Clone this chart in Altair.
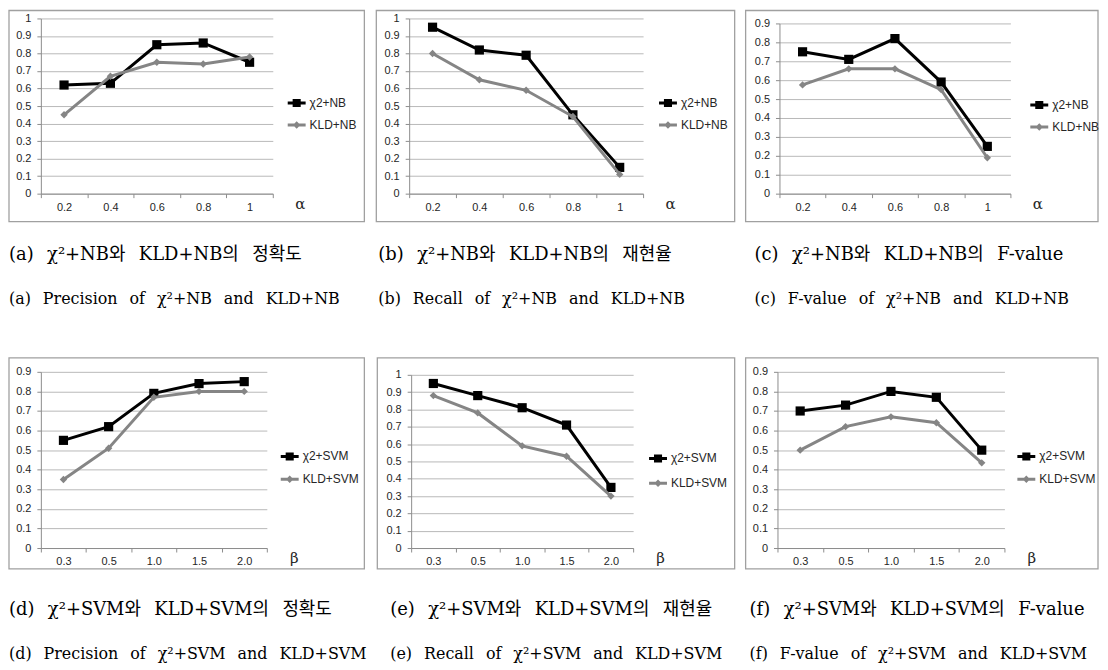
import altair as alt
import pandas as pd

# ---------------- data ----------------
alpha_labels = ["0.2", "0.4", "0.6", "0.8", "1"]
beta_labels = ["0.3", "0.5", "1.0", "1.5", "2.0"]

series_nb = ["χ2+NB", "KLD+NB"]
series_svm = ["χ2+SVM", "KLD+SVM"]

prec_nb_chi = [0.62, 0.63, 0.85, 0.86, 0.75]
prec_nb_kld = [0.45, 0.67, 0.75, 0.74, 0.78]
rec_nb_chi = [0.95, 0.82, 0.79, 0.45, 0.15]
rec_nb_kld = [0.80, 0.65, 0.59, 0.44, 0.11]
f_nb_chi = [0.75, 0.71, 0.82, 0.59, 0.25]
f_nb_kld = [0.575, 0.66, 0.66, 0.55, 0.19]

prec_svm_chi = [0.55, 0.62, 0.79, 0.84, 0.85]
prec_svm_kld = [0.35, 0.51, 0.77, 0.80, 0.80]
rec_svm_chi = [0.95, 0.88, 0.81, 0.71, 0.35]
rec_svm_kld = [0.88, 0.78, 0.59, 0.53, 0.30]
f_svm_chi = [0.70, 0.73, 0.80, 0.77, 0.50]
f_svm_kld = [0.50, 0.62, 0.67, 0.64, 0.435]

ticks_10 = [0, 0.1, 0.2, 0.3, 0.4, 0.5, 0.6, 0.7, 0.8, 0.9, 1.0]
ticks_09 = [0, 0.1, 0.2, 0.3, 0.4, 0.5, 0.6, 0.7, 0.8, 0.9]

K = "\u2002\u2005"    # gap in the Korean caption line
E = "\u2002\u2005"    # gap in the English caption line
captions = {
    "a": ["(a)" + K + "χ²+NB와" + K + "KLD+NB의" + K + "정확도",
          "(a)" + E + "Precision" + E + "of" + E + "χ²+NB" + E + "and" + E + "KLD+NB"],
    "b": ["(b)" + K + "χ²+NB와" + K + "KLD+NB의" + K + "재현율",
          "(b)" + E + "Recall" + E + "of" + E + "χ²+NB" + E + "and" + E + "KLD+NB"],
    "c": ["(c)" + K + "χ²+NB와" + K + "KLD+NB의" + K + "F-value",
          "(c)" + E + "F-value" + E + "of" + E + "χ²+NB" + E + "and" + E + "KLD+NB"],
    "d": ["(d)" + K + "χ²+SVM와" + K + "KLD+SVM의" + K + "정확도",
          "(d)" + E + "Precision" + E + "of" + E + "χ²+SVM" + E + "and" + E + "KLD+SVM"],
    "e": ["(e)" + K + "χ²+SVM와" + K + "KLD+SVM의" + K + "재현율",
          "(e)" + E + "Recall" + E + "of" + E + "χ²+SVM" + E + "and" + E + "KLD+SVM"],
    "f": ["(f)" + K + "χ²+SVM와" + K + "KLD+SVM의" + K + "F-value",
          "(f)" + E + "F-value" + E + "of" + E + "χ²+SVM" + E + "and" + E + "KLD+SVM"],
}

# ---------------- styles ----------------
BLACK = "#000000"
GRAY = "#858585"
GRID = "#b8b8b8"
AXIS = "#8c8c8c"
FRAME = "#a0a0a0"
LABEL = "#262626"
SANS = "Liberation Sans"
SERIF = "DejaVu Serif, Noto Sans CJK KR"

CHI_PATH = "M-1,-0.17H1V0.17H-1Z M-0.45,-0.45H0.45V0.45H-0.45Z"
KLD_PATH = "M-1,-0.17H1V0.17H-1Z M0,-0.42L0.42,0L0,0.42L-0.42,0Z"


def panel(xlabels, series, chi, kld, ymax, yticks, sym, caption, W, H,
          ytop, frame, legx, legy, rowpad, capdx, capoff):
    df = pd.DataFrame({
        "x": xlabels + xlabels,
        "v": chi + kld,
        "s": [series[0]] * len(xlabels) + [series[1]] * len(xlabels),
    })
    xenc = alt.X(
        "x:N", sort=xlabels, bandPosition=0.5,
        scale=alt.Scale(type="band", paddingInner=0, paddingOuter=0),
        axis=alt.Axis(
            title=sym, titleX=W + 27, titleY=10, titleAlign="center",
            titleBaseline="middle", titleFont="DejaVu Serif", titleFontSize=15,
            titleFontWeight="normal", titleColor=LABEL,
            tickBand="extent", labelAngle=0, labelFont=SANS, labelFontSize=11,
            labelColor=LABEL, labelPadding=4, tickSize=4, tickColor=AXIS,
            domainColor=AXIS, grid=False,
        ),
    )
    yenc = alt.Y(
        "v:Q",
        scale=alt.Scale(domain=[0, ymax], range=[H, ytop], nice=False),
        axis=alt.Axis(
            values=yticks, format=".1~f", title=None, labelFont=SANS,
            labelFontSize=11, labelColor=LABEL, labelPadding=6, tickSize=4,
            tickColor=AXIS, domainColor=AXIS, grid=True, gridColor=GRID,
            gridWidth=1,
        ),
    )
    fl, fr, ft, fb = frame
    box = alt.Chart(alt.Data(values=[{"k": 1}])).mark_rect(
        fill="white", fillOpacity=0, stroke=FRAME, strokeWidth=1.3
    ).encode(
        x=alt.value(fl), x2=alt.value(W + fr),
        y=alt.value(ft), y2=alt.value(H + fb),
    )
    base = alt.Chart(df)
    chi_line = base.transform_filter(alt.datum.s == series[0]).mark_line(
        color=BLACK, strokeWidth=3).encode(x=xenc, y=yenc)
    chi_pts = base.transform_filter(alt.datum.s == series[0]).mark_point(
        shape="square", filled=True, color=BLACK, size=85, opacity=1
    ).encode(x=xenc, y=yenc)
    kld_line = base.transform_filter(alt.datum.s == series[1]).mark_line(
        color=GRAY, strokeWidth=3).encode(x=xenc, y=yenc)
    kld_pts = base.transform_filter(alt.datum.s == series[1]).mark_point(
        shape="diamond", filled=True, color=GRAY, size=55, opacity=1
    ).encode(x=xenc, y=yenc)
    leg = alt.Legend(
        orient="none", legendX=legx, legendY=legy, title=None,
        symbolSize=324, symbolStrokeWidth=0, labelFont=SANS,
        labelFontSize=12, labelColor=LABEL, labelOffset=4,
        rowPadding=rowpad, padding=0, offset=0,
    )
    legend_layer = base.mark_point(filled=True, clip=True, opacity=1, size=10).encode(
        x=alt.value(0), y=alt.value(-300),
        color=alt.Color("s:N", sort=series,
                        scale=alt.Scale(domain=series, range=[BLACK, GRAY]),
                        legend=leg),
        shape=alt.Shape("s:N", sort=series,
                        scale=alt.Scale(domain=series, range=[CHI_PATH, KLD_PATH]),
                        legend=leg),
    )
    return alt.layer(box, chi_line, chi_pts, kld_line, kld_pts, legend_layer).properties(
        width=W, height=H,
        title=alt.TitleParams(
            text=caption[0], subtitle=caption[1], orient="bottom",
            anchor="start", frame="group", offset=capoff, dx=capdx,
            font=SERIF, fontSize=18, fontWeight="normal", color="#000000",
            baseline="top",
            subtitleFont=SERIF, subtitleFontSize=16,
            subtitleFontWeight="normal", subtitleColor="#000000",
            subtitlePadding=27,
        ),
    )


H1 = 176
H2 = 177
pa = panel(alpha_labels, series_nb, prec_nb_chi, prec_nb_kld, 1.0, ticks_10, "α",
           captions["a"], 233, H1, 0, (-32, 92, -8, 28), 248, 76, 7, -32, 24)
pb = panel(alpha_labels, series_nb, rec_nb_chi, rec_nb_kld, 1.0, ticks_10, "α",
           captions["b"], 235, H1, 0, (-33, 92, -8, 28), 251, 76, 7, -31, 24)
pc = panel(alpha_labels, series_nb, f_nb_chi, f_nb_kld, 0.9, ticks_09, "α",
           captions["c"], 232, H1, 5, (-34, 88, -8, 28), 252, 78, 7, -25, 24)

pd_ = panel(beta_labels, series_svm, prec_svm_chi, prec_svm_kld, 0.9, ticks_09, "β",
            captions["d"], 227, H2, 0, (-32, 98, -14, 21), 241, 76, 8, -32, 32)
pe = panel(beta_labels, series_svm, rec_svm_chi, rec_svm_kld, 1.0, ticks_10, "β",
           captions["e"], 223, H2, 3, (-34, 102, -14, 21), 239, 78, 10, -21, 32)
pf = panel(beta_labels, series_svm, f_svm_chi, f_svm_kld, 0.9, ticks_09, "β",
           captions["f"], 228, H2, 0, (-32, 94, -14, 21), 241, 76, 8, -28, 32)

row1 = alt.hconcat(pa, pb, pc, spacing=137, bounds="flush").resolve_scale(
    color="independent", shape="independent").resolve_legend(
    color="independent", shape="independent")
row2 = alt.hconcat(pd_, pe, pf, spacing=145, bounds="flush").resolve_scale(
    color="independent", shape="independent").resolve_legend(
    color="independent", shape="independent")

chart = alt.vconcat(row1, row2, spacing=50).resolve_scale(
    color="independent", shape="independent").resolve_legend(
    color="independent", shape="independent").properties(
    padding=0, background="white"
).configure_view(strokeWidth=0)

chart.save("out.html", embed_options={"renderer": "svg", "actions": False})
